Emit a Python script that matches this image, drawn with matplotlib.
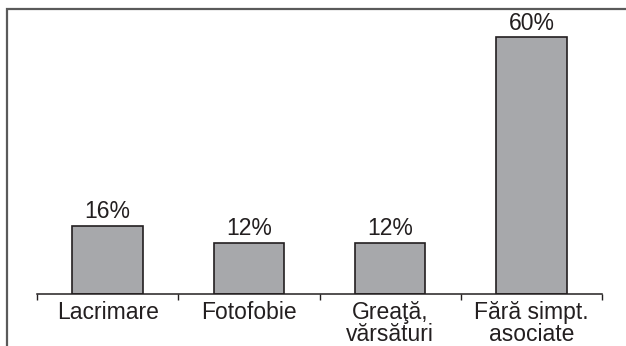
import matplotlib
matplotlib.use("Agg")
import matplotlib.pyplot as plt
import numpy as np

plt.rcParams["font.family"] = ["Liberation Sans", "DejaVu Sans"]

categories = ["Lacrimare", "Fotofobie", "Greaţă,\nvărsături", "Fără simpt.\nasociate"]
values = [16, 12, 12, 60]

W, H = 626, 346
fig = plt.figure(figsize=(W / 100, H / 100), dpi=100)

# outer frame: only left and top edges
frame = fig.add_axes([0, 0, 1, 1])
frame.set_xlim(0, W)
frame.set_ylim(H, 0)
frame.axis("off")
frame.plot([6.5, 6.5, W], [H, 8.5, 8.5], color="#5a5a5a", lw=1.6,
           solid_joinstyle="miter")

x0, x1, ybase, ytop = 37, 602, 294, 20
ax = fig.add_axes([x0 / W, (H - ybase) / H, (x1 - x0) / W, (ybase - ytop) / H])
pos = np.arange(len(categories))
bars = ax.bar(pos, values, width=0.5, color="#a7a8ab", edgecolor="#231f20",
              linewidth=1.2, zorder=2)
for b, v in zip(bars, values):
    ax.text(b.get_x() + b.get_width() / 2, v + 0.5, f"{v}%", ha="center",
            va="bottom", fontsize=16.5, color="#231f20")

ax.set_xlim(-0.5, len(categories) - 0.5)
ax.set_ylim(0, 64)
for s in ["left", "right", "top"]:
    ax.spines[s].set_visible(False)
ax.spines["bottom"].set_color("#231f20")
ax.spines["bottom"].set_linewidth(1.1)
ax.set_yticks([])
ax.set_xticks(pos)
ax.set_xticklabels(categories, fontsize=16.5, color="#231f20", linespacing=0.95)
ax.tick_params(axis="x", which="major", length=0, pad=5)
ax.set_xticks(np.arange(-0.5, len(categories)), minor=True)
ax.tick_params(axis="x", which="minor", length=4.5, width=1.0,
               color="#231f20", direction="out")
ax.patch.set_alpha(0)

fig.savefig("out.png", dpi=100)
